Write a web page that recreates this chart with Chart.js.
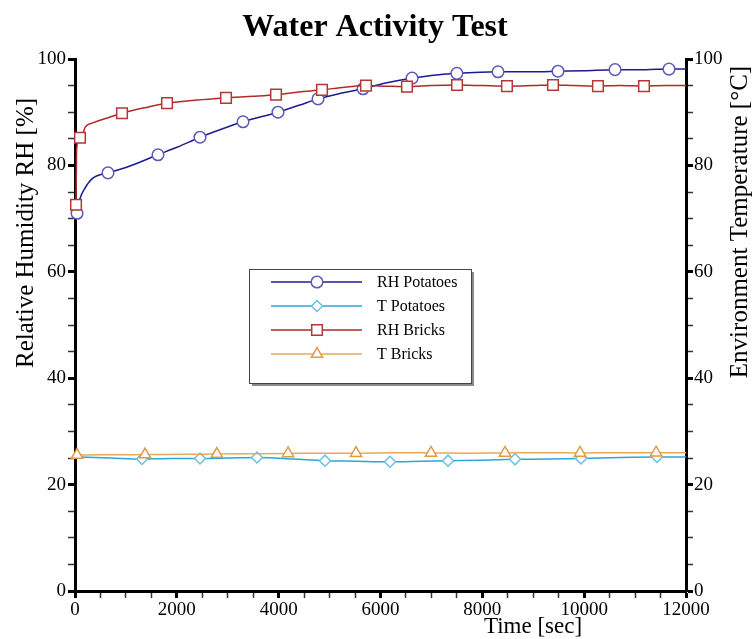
<!DOCTYPE html>
<html>
<head>
<meta charset="utf-8">
<title>Water Activity Test</title>
<script src="https://cdn.jsdelivr.net/npm/chart.js@4.4.1/dist/chart.umd.min.js"></script>
<style>
  html, body { margin: 0; padding: 0; background: #fff; }
  #wrap { position: relative; width: 755px; height: 639px; }
</style>
</head>
<body>
<div id="wrap"><canvas id="chart" width="755" height="639"></canvas></div>
<script>
// values (time in seconds)
const seriesNames = ['RH Potatoes', 'T Potatoes', 'RH Bricks', 'T Bricks'];

const timeRhPotatoes = [0, 40, 100, 200, 350, 648, 1000, 1630, 2000, 2455, 2900, 3300, 3987, 4400, 4773, 5200, 5657, 6100, 6620, 7000, 7500, 8308, 9000, 9486, 10000, 10606, 11200, 11666, 12000];
const rhPotatoes     = [70.5, 71.0, 73.8, 75.8, 77.6, 78.6, 79.6, 82.0, 83.4, 85.3, 86.9, 88.2, 90.0, 91.3, 92.5, 93.5, 94.4, 95.5, 96.4, 96.9, 97.3, 97.6, 97.6, 97.7, 97.8, 98.0, 98.0, 98.1, 98.1];
const markRhPotatoes = [40, 648, 1630, 2455, 3300, 3987, 4773, 5657, 6620, 7500, 8308, 9486, 10606, 11666];

const timeTPotatoes = [0, 700, 1316, 1900, 2455, 3000, 3574, 4300, 4910, 5500, 6187, 6800, 7326, 8000, 8642, 9300, 9938, 10700, 11431, 12000];
const tPotatoes     = [25.2, 25.0, 24.8, 24.9, 24.9, 25.0, 25.1, 24.8, 24.5, 24.4, 24.3, 24.4, 24.5, 24.6, 24.75, 24.8, 24.9, 25.1, 25.2, 25.2];
const markTPotatoes = [1316, 2455, 3574, 4910, 6187, 7326, 8642, 9938, 11431];

const timeRhBricks = [0, 20, 30, 60, 98, 160, 200, 350, 600, 923, 1400, 1807, 2400, 2966, 3500, 3948, 4400, 4851, 5300, 5715, 6100, 6520, 7000, 7503, 8000, 8484, 9000, 9388, 9800, 10271, 10700, 11175, 11600, 12000];
const rhBricks     = [72.4, 72.6, 82.5, 84.6, 85.2, 86.1, 87.2, 88.0, 88.8, 89.8, 90.9, 91.7, 92.3, 92.7, 93.0, 93.3, 93.8, 94.2, 94.7, 95.0, 94.9, 94.8, 95.0, 95.1, 95.0, 94.9, 95.0, 95.1, 95.0, 94.9, 95.0, 94.9, 95.0, 95.0];
const markRhBricks = [20, 98, 923, 1807, 2966, 3948, 4851, 5715, 6520, 7503, 8484, 9388, 10271, 11175];

const timeTBricks = [0, 40, 700, 1375, 2100, 2786, 3500, 4184, 4850, 5520, 6250, 6992, 7700, 8445, 9200, 9919, 10700, 11412, 12000];
const tBricks     = [25.5, 25.55, 25.6, 25.65, 25.7, 25.75, 25.8, 25.85, 25.9, 25.9, 26.0, 25.95, 25.9, 25.95, 26.0, 25.95, 26.0, 26.0, 26.0];
const markTBricks = [40, 1375, 2786, 4184, 5520, 6992, 8445, 9919, 11412];

const xTicksMajor = [0, 2000, 4000, 6000, 8000, 10000, 12000];
const yTicksMajor = [0, 20, 40, 60, 80, 100];

const serif = "'Liberation Serif', 'Times New Roman', serif";

function makeSeries(label, times, values, marks, opts) {
  return {
    label: label,
    data: times.map((t, i) => ({ x: t, y: values[i] })),
    yAxisID: opts.axis,
    borderColor: opts.line,
    borderWidth: 1.5,
    backgroundColor: '#ffffff',
    pointStyle: opts.style,
    pointRadius: ctx => marks.includes(times[ctx.dataIndex]) ? opts.r : 0,
    pointHoverRadius: ctx => marks.includes(times[ctx.dataIndex]) ? opts.r : 0,
    pointBackgroundColor: '#ffffff',
    pointBorderColor: opts.mark,
    pointBorderWidth: 1.5,
    cubicInterpolationMode: 'monotone',
    clip: false,
    order: opts.order,
    _legend: opts
  };
}

const datasets = [
  makeSeries(seriesNames[0], timeRhPotatoes, rhPotatoes, markRhPotatoes,
    { axis: 'y', line: '#1c1c8c', mark: '#5a5ab8', style: 'circle', r: 5.8, order: 1 }),
  makeSeries(seriesNames[1], timeTPotatoes, tPotatoes, markTPotatoes,
    { axis: 'y2', line: '#2aa6da', mark: '#6cc0e2', style: 'rectRot', r: 5.5, order: 3 }),
  makeSeries(seriesNames[2], timeRhBricks, rhBricks, markRhBricks,
    { axis: 'y', line: '#b02a2a', mark: '#b43636', style: 'rect', r: 7.5, order: 0 }),
  makeSeries(seriesNames[3], timeTBricks, tBricks, markTBricks,
    { axis: 'y2', line: '#e8aa58', mark: '#e39a45', style: 'triangle', r: 6.5, order: 2 })
];

function tickStyle(majors) {
  return {
    drawOnChartArea: false,
    drawTicks: true,
    tickLength: 7,
    tickColor: ctx => majors.includes(ctx.tick.value) ? '#000' : '#333',
    tickWidth: ctx => majors.includes(ctx.tick.value) ? 3 : 1.5
  };
}

const tickFont = { family: serif, size: 19 };

// title, axis titles and the boxed legend
const decorations = {
  id: 'decorations',
  afterDraw(chart) {
    const ctx = chart.ctx;
    ctx.save();
    ctx.fillStyle = '#000';
    ctx.textBaseline = 'middle';
    ctx.textAlign = 'center';

    ctx.font = 'bold 32px ' + serif;
    ctx.fillText('Water Activity Test', 375, 28);

    ctx.font = '23px ' + serif;
    ctx.fillText('Time [sec]', 533, 627);

    ctx.font = '25px ' + serif;
    ctx.save();
    ctx.translate(26, 233);
    ctx.rotate(-Math.PI / 2);
    ctx.fillText('Relative Humidity RH [%]', 0, 0);
    ctx.restore();

    ctx.save();
    ctx.translate(740, 222);
    ctx.rotate(-Math.PI / 2);
    ctx.fillText('Environment Temperature [\u00B0C]', 0, 0);
    ctx.restore();

    // legend box
    const box = { x: 249, y: 269, w: 222, h: 114 };
    ctx.fillStyle = '#8a8a8a';
    ctx.fillRect(box.x + 3, box.y + 3, box.w, box.h);
    ctx.fillStyle = '#fff';
    ctx.fillRect(box.x, box.y, box.w, box.h);
    ctx.strokeStyle = '#444';
    ctx.lineWidth = 1;
    ctx.strokeRect(box.x + 0.5, box.y + 0.5, box.w, box.h);

    const rows = [282, 306, 330, 354];
    ctx.font = '16px ' + serif;
    ctx.textAlign = 'left';
    chart.data.datasets.forEach((ds, i) => {
      const o = ds._legend;
      const y = rows[i];
      ctx.strokeStyle = o.line;
      ctx.lineWidth = 1.5;
      ctx.beginPath();
      ctx.moveTo(271, y);
      ctx.lineTo(362, y);
      ctx.stroke();
      ctx.fillStyle = '#fff';
      ctx.strokeStyle = o.mark;
      Chart.helpers.drawPoint(ctx, { pointStyle: o.style, radius: o.r, rotation: 0, borderWidth: 1.5 }, 317, y);
      ctx.fillStyle = '#000';
      ctx.fillText(ds.label, 377, y + 1);
    });
    ctx.restore();
  }
};

new Chart(document.getElementById('chart'), {
  type: 'line',
  data: { datasets: datasets },
  options: {
    responsive: false,
    animation: false,
    layout: { padding: { top: 59, left: 0, right: 0, bottom: 0 } },
    plugins: {
      legend: { display: false },
      title: { display: false },
      tooltip: { enabled: false }
    },
    scales: {
      x: {
        type: 'linear',
        min: 0,
        max: 12000,
        afterFit: s => { s.height = 48; },
        afterBuildTicks: s => { s.ticks = []; for (let v = 0; v <= 12000; v += 500) s.ticks.push({ value: v }); },
        ticks: {
          autoSkip: false,
          maxRotation: 0,
          padding: 1,
          color: '#000',
          font: tickFont,
          callback: v => xTicksMajor.includes(v) ? String(v) : ''
        },
        grid: tickStyle(xTicksMajor),
        border: { display: true, color: '#000', width: 3 }
      },
      y: {
        position: 'left',
        min: 0,
        max: 100,
        afterFit: s => { s.width = 75; },
        afterBuildTicks: s => { s.ticks = []; for (let v = 0; v <= 100; v += 5) s.ticks.push({ value: v }); },
        ticks: {
          autoSkip: false,
          padding: 2,
          color: '#000',
          font: tickFont,
          callback: v => yTicksMajor.includes(v) ? String(v) : ''
        },
        grid: tickStyle(yTicksMajor),
        border: { display: true, color: '#000', width: 3 }
      },
      y2: {
        position: 'right',
        min: 0,
        max: 100,
        afterFit: s => { s.width = 69; },
        afterBuildTicks: s => { s.ticks = []; for (let v = 0; v <= 100; v += 5) s.ticks.push({ value: v }); },
        ticks: {
          autoSkip: false,
          padding: 1,
          color: '#000',
          font: tickFont,
          callback: v => yTicksMajor.includes(v) ? String(v) : ''
        },
        grid: tickStyle(yTicksMajor),
        border: { display: true, color: '#000', width: 3 }
      }
    }
  },
  plugins: [decorations]
});
</script>
</body>
</html>
